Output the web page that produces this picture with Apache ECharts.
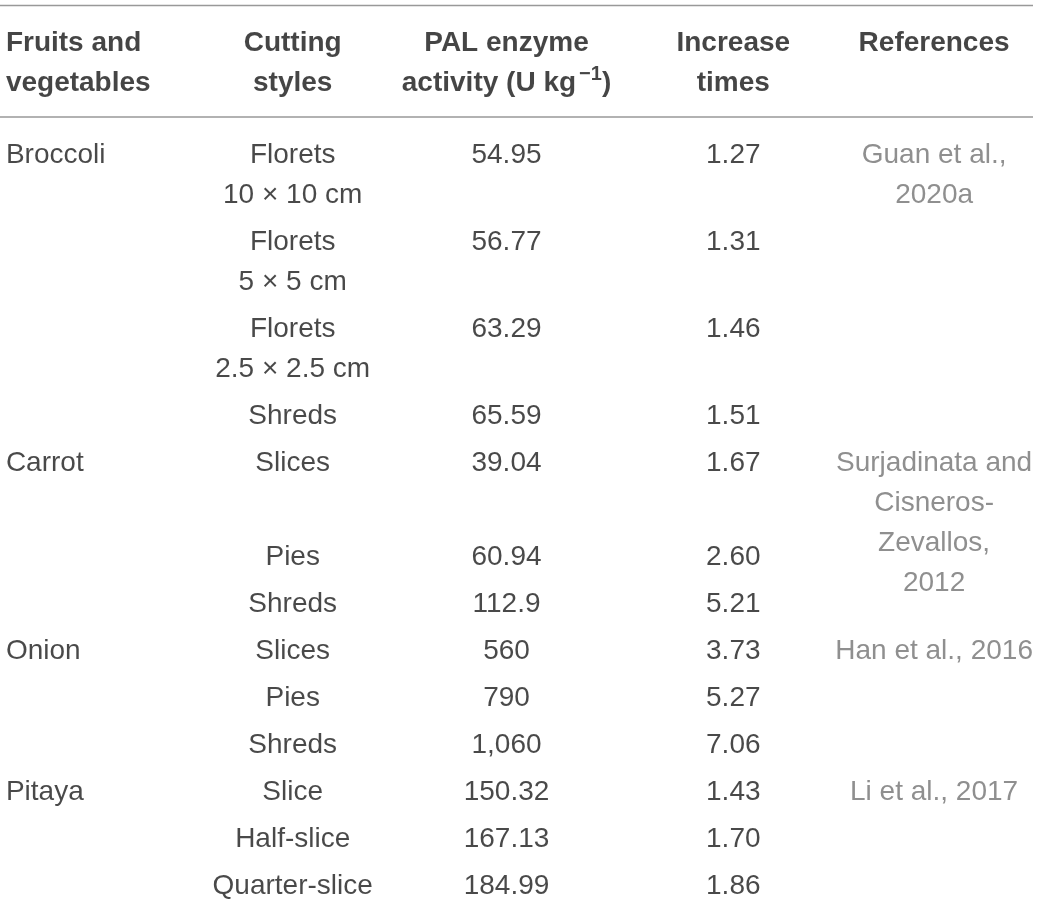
<!DOCTYPE html>
<html>
<head>
<meta charset="utf-8">
<title>PAL enzyme activity by cutting style</title>
<script src="https://cdn.jsdelivr.net/npm/echarts@6/dist/echarts.min.js"></script>
<style>
  html, body { margin: 0; padding: 0; background: #fff; }
  #chart { width: 1039px; height: 899px; }
</style>
</head>
<body>
<div id="chart"></div>
<script>
// table contents, one array per column
const headers = [
  'Fruits and\nvegetables',
  'Cutting\nstyles',
  'PAL enzyme\nactivity (U kg{sup|−1})',
  'Increase\ntimes',
  'References'
]
const produce = ['Broccoli', '', '', '', 'Carrot', '', '', 'Onion', '', '', 'Pitaya', '', '']
const cuttingStyles = [
  'Florets\n10 × 10 cm', 'Florets\n5 × 5 cm', 'Florets\n2.5 × 2.5 cm', 'Shreds',
  'Slices', 'Pies', 'Shreds',
  'Slices', 'Pies', 'Shreds',
  'Slice', 'Half-slice', 'Quarter-slice'
]
const palActivity = [54.95, 56.77, 63.29, 65.59, 39.04, 60.94, 112.9, 560, 790, 1060, 150.32, 167.13, 184.99]
const increaseTimes = [1.27, 1.31, 1.46, 1.51, 1.67, 2.60, 5.21, 3.73, 5.27, 7.06, 1.43, 1.70, 1.86]
const references = [
  'Guan et al.,\n2020a', '', '', '',
  'Surjadinata and\nCisneros-\nZevallos,\n2012', '', '',
  'Han et al., 2016', '', '',
  'Li et al., 2017', '', ''
]

// layout
const LINE = 40      // line height inside a cell
const GAP = 7        // space between rows
const HEAD_TOP = 23
const BODY_TOP = 135
const FONT = 'Liberation Sans, Arial, Helvetica, sans-serif'

const columns = [
  produce,
  cuttingStyles,
  palActivity.map(v => v.toLocaleString('en-US', { maximumFractionDigits: 2 })),
  increaseTimes.map(v => v.toFixed(2)),
  references
]

const nLines = s => (s === '' ? 1 : String(s).split('\n').length)

// height of each row; a reference cell spans rows until the next reference,
// and any lines it has beyond those rows go into its first row
const rowHeights = produce.map((_, i) => Math.max(nLines(produce[i]), nLines(cuttingStyles[i])) * LINE + GAP)
for (let i = 0; i < references.length; i++) {
  if (references[i] === '') continue
  let j = i + 1
  while (j < references.length && references[j] === '') j++
  let spanLines = 0
  for (let k = i; k < j; k++) spanLines += Math.round((rowHeights[k] - GAP) / LINE)
  const extra = nLines(references[i]) - spanLines
  if (extra > 0) rowHeights[i] += extra * (LINE + GAP)
}
const rowTops = []
let y = BODY_TOP
rowHeights.forEach(h => { rowTops.push(y); y += h })

const colStyle = [
  { align: 'left', offset: [-98, 0], color: '#1c1c1c' },
  { align: 'center', offset: [-19, 0], color: '#1c1c1c' },
  { align: 'center', offset: [-13, 0], color: '#1c1c1c' },
  { align: 'center', offset: [6, 0], color: '#1c1c1c' },
  { align: 'center', offset: [-1, 0], color: '#737373' }
]

const series = columns.map((col, c) => {
  const data = [{
    name: headers[c],
    value: [c, HEAD_TOP],
    label: { fontWeight: 'bold', color: '#161616' }
  }]
  col.forEach((text, r) => {
    if (text === '') return
    data.push({ name: text, value: [c, rowTops[r]] })
  })
  return {
    type: 'scatter',
    symbolSize: 1,
    itemStyle: { color: 'rgba(0,0,0,0)' },
    silent: true,
    data: data,
    label: {
      show: true,
      position: 'inside',
      formatter: p => p.name,
      align: colStyle[c].align,
      verticalAlign: 'top',
      offset: colStyle[c].offset,
      fontFamily: FONT,
      fontSize: 28,
      lineHeight: LINE,
      color: colStyle[c].color,
      rich: {
        sup: {
          fontFamily: FONT, fontSize: 20, fontWeight: 'bold', color: '#161616',
          verticalAlign: 'top', lineHeight: 22, padding: [1, 0, 0, 3]
        }
      }
    }
  }
})

const chart = echarts.init(document.getElementById('chart'))
chart.setOption({
  animation: false,
  backgroundColor: '#fff',
  grid: { left: 0, right: 0, top: 0, bottom: 0 },
  xAxis: { type: 'category', data: headers.map((h, i) => 'c' + i), show: false },
  yAxis: { type: 'value', inverse: true, min: 0, max: 899, show: false },
  graphic: [
    { type: 'line', shape: { x1: 0, y1: 5.5, x2: 1033, y2: 5.5 }, style: { stroke: '#999', lineWidth: 1.5 } },
    { type: 'line', shape: { x1: 0, y1: 117, x2: 1033, y2: 117 }, style: { stroke: '#999', lineWidth: 1.5 } }
  ],
  series: series
})
</script>
</body>
</html>
